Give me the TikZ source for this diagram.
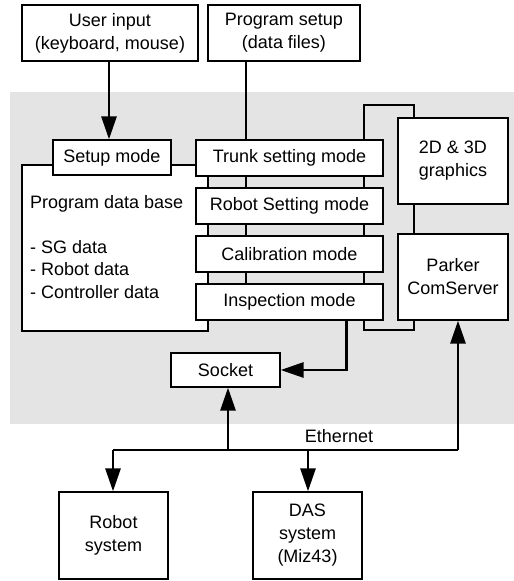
\documentclass[tikz,border=0pt]{standalone}
\usepackage{fontspec}
\setmainfont{Liberation Sans}
\usetikzlibrary{arrows.meta}
\definecolor{bggray}{RGB}{228,228,228}
\begin{document}
\begin{tikzpicture}[x=1pt,y=-1pt,
  box/.style={draw, line width=1.3pt, fill=white, inner sep=0pt, align=center,
    font=\fontsize{18}{23}\selectfont},
  conn/.style={line width=1.2pt},
  feed/.style={line width=2pt},
  bigarrow/.style={line width=2.8pt, -{Triangle[length=23pt,width=15pt]}},
  bus/.style={line width=2.8pt}
]
\useasboundingbox (0,0) rectangle (514,581);
\fill[bggray] (10,92) rectangle (514,424);

% loop between mode column and graphics column
\coordinate (loopA) at (364,105);
\coordinate (loopB) at (414,330);
\draw[conn] (loopA) rectangle (loopB);

% top boxes
\node[box, minimum width=176pt, minimum height=56pt] (ui) at (110,33) {User input\\(keyboard, mouse)};
\node[box, minimum width=152pt, minimum height=56pt] (ps) at (284,33) {Program setup\\(data files)};

% database
\node[draw, line width=1.3pt, fill=white, minimum width=186pt, minimum height=166pt, inner sep=0pt] (db) at (115,248) {};
\node[anchor=west, inner sep=0pt, align=left, font=\fontsize{18}{22.5}\selectfont] (dbtext) at (30,247)
  {Program data base\\[0pt] \\- SG data\\- Robot data\\- Controller data};

% program setup feed line
\draw[feed] ([xshift=39pt]ps.south west) -- ([xshift=39pt]ps.south west |- 0,284);

% mode boxes
\node[box, minimum width=118pt, minimum height=35pt] (setup) at (112,157.5) {Setup mode};
\node[box, minimum width=187pt, minimum height=36pt] (trunk) at (289.5,158) {Trunk setting mode};
\node[box, minimum width=187pt, minimum height=36pt] (robset) at (289.5,206) {Robot Setting mode};
\node[box, minimum width=187pt, minimum height=36pt] (calib) at (289.5,254) {Calibration mode};
\node[box, minimum width=187pt, minimum height=36pt] (insp) at (289.5,302) {Inspection mode};

\node[box, minimum width=110pt, minimum height=86pt] (gfx) at (453,161) {2D \& 3D\\graphics};
\node[box, minimum width=110pt, minimum height=86pt] (parker) at (453,277) {Parker\\ComServer};

\node[box, minimum width=109pt, minimum height=34pt] (sock) at (225.5,370) {Socket};

\node[box, minimum width=109pt, minimum height=87pt] (robot) at (113.5,535.5) {Robot\\system};
\node[box, minimum width=109pt, minimum height=87pt] (das) at (307.5,535.5) {DAS\\system\\(Miz43)};

% arrows
\draw[bigarrow] ([xshift=-1pt]ui.south) -- ([xshift=-1pt]ui.south |- setup.north);
\draw[bigarrow] ([xshift=-37pt]insp.south east) |- (sock.east);

\coordinate (eL) at (113,450);
\coordinate (eS) at (228,450);
\coordinate (eD) at (308,450);
\coordinate (eR) at (458,450);
\draw[bus] (eL) -- (eR);
\draw[bigarrow] (eS) -- (eS |- sock.south);
\draw[bigarrow] (eR) -- (eR |- parker.south);
\draw[bigarrow] (eL) -- (eL |- robot.north);
\draw[bigarrow] (eD) -- (eD |- das.north);

\node[font=\fontsize{18}{22}\selectfont, inner sep=0pt] (eth) at (339,436) {Ethernet};
\end{tikzpicture}
\end{document}
